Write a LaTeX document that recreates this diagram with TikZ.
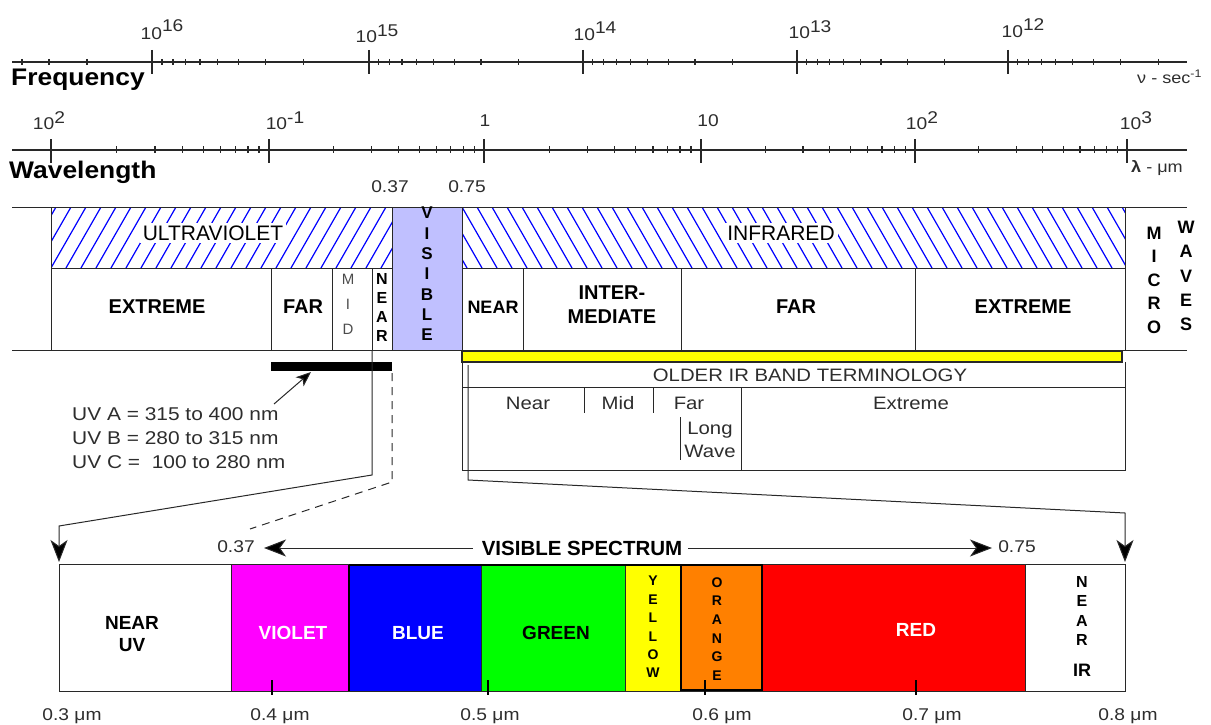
\documentclass[tikz,border=0pt]{standalone}
\usepackage{fontspec}
\setmainfont{Liberation Sans}
\newfontfamily\widefont[FakeStretch=1.13]{Liberation Sans}
\newfontfamily\widebold[FakeStretch=1.1]{Liberation Sans Bold}
\usetikzlibrary{arrows.meta}
\newcommand\fsz[1]{\fontsize{#1}{#1}\selectfont}
\definecolor{axc}{RGB}{40,40,40}
\definecolor{txc}{RGB}{45,45,45}
\definecolor{lav}{RGB}{192,192,255}
\definecolor{vio}{RGB}{255,0,255}
\definecolor{blu}{RGB}{0,0,255}
\definecolor{grn}{RGB}{0,255,0}
\definecolor{yel}{RGB}{255,255,0}
\definecolor{ora}{RGB}{255,128,0}
\definecolor{rd}{RGB}{255,0,0}
\definecolor{hatchc}{RGB}{0,0,255}
\begin{document}
\begin{tikzpicture}[x=1pt,y=-1pt,
  ax/.style={line width=1.3pt, draw=axc},
  tk/.style={line width=1.3pt, draw=axc},
  num/.style={font=\widefont\fsz{17}, text=txc, inner sep=0},
  big/.style={font=\widebold\fsz{24}, inner sep=0},
  band/.style={font=\bfseries\fsz{20}, inner sep=0},
  thinlbl/.style={font=\widefont\fsz{18}, text=txc, inner sep=0},
  ln/.style={line width=1pt, draw=axc},
  hatchln/.style={line width=1.2pt, draw=hatchc},
  arr/.style={-{Stealth[length=22pt,width=17pt,inset=6pt,fill=black]}},
  sarr/.style={-{Stealth[length=15pt,width=12pt,inset=4pt,fill=black]}}
]
\useasboundingbox (0,0) rectangle (1211,725);

% ---------------- Frequency axis ----------------
\draw[ax] (12,62) -- (1187,62);
\foreach \x in {152,369,583,797,1008} \draw[tk] (\x,50) -- (\x,74);
\foreach \a/\b in {152/369,369/583,583/797,797/1008,1008/1223}
  \foreach \k in {2,...,9} {
    \pgfmathsetmacro\xx{\a+(\b-\a)*ln(10/\k)/ln(10)}
    \draw[tk] (\xx,59) -- (\xx,65);
  }
\foreach \k in {2,3,4} {
  \pgfmathsetmacro\xx{152-216*ln(\k)/ln(10)}
  \draw[tk] (\xx,59) -- (\xx,65);
}
\node[num] (f16) at (162,30) {10\raisebox{8pt}{16}};
\node[num] (f15) at (377,34) {10\raisebox{6pt}{15}};
\node[num] (f14) at (595,31) {10\raisebox{7pt}{14}};
\node[num] (f13) at (810,30) {10\raisebox{6pt}{13}};
\node[num] (f12) at (1023,28) {10\raisebox{7pt}{12}};
\node[big, anchor=west] (freq) at (11,80) {Frequency};
\node[num, anchor=west] (nu) at (1137,77) {\fsz{16}ν - sec\raisebox{6pt}{\fsz{11}-1}};

% ---------------- Wavelength axis ----------------
\draw[ax] (12,150) -- (1187,150);
\foreach \x in {51,269,484,701,915,1127} \draw[tk] (\x,139) -- (\x,163);
\foreach \a/\b in {51/269,269/484,484/701,701/915,915/1127}
  \foreach \k in {2,...,9} {
    \pgfmathsetmacro\xx{\a+(\b-\a)*ln(\k)/ln(10)}
    \draw[tk] (\xx,146) -- (\xx,153);
  }
\node[num] (w1) at (49,121) {10\raisebox{6pt}{2}};
\node[num] (w2) at (285,121) {10\raisebox{6pt}{-1}};
\node[num] (w3) at (485,121) {1};
\node[num] (w4) at (708,121) {10};
\node[num] (w5) at (922,121) {10\raisebox{6pt}{2}};
\node[num] (w6) at (1136,121) {10\raisebox{6pt}{3}};
\node[big, anchor=west] (wav) at (9,172) {Wavelength};
\node[num, anchor=west] (lam) at (1131,168) {\fsz{16}\textbf{λ} - μm};
\node[num] (l37) at (390,187) {0.37};
\node[num] (l75) at (467,187) {0.75};

% ---------------- Bands ----------------
\begin{scope}
  \clip (51,207) rectangle (392,268);
  \foreach \i in {-60,-45,...,360} \draw[hatchln] (51+\i,268) -- (51+\i+35,207);
\end{scope}
\begin{scope}
  \clip (462,207) rectangle (1125,268);
  \foreach \i in {-60,-45,...,680} \draw[hatchln] (462+\i,207) -- (462+\i+35,268);
\end{scope}
\fill[lav] (392,207) rectangle (462,350);
\draw[ln] (12,207) -- (1187,207);
\draw[ln] (12,350) -- (1187,350);
\draw[ln] (51,268) -- (392,268);
\draw[ln] (462,268) -- (1125,268);
\foreach \x in {51,392,462,1125} \draw[ln] (\x,207) -- (\x,350);
\foreach \x in {271,332,372,523,681,915} \draw[ln] (\x,268) -- (\x,350);

\node[font=\fsz{21}, fill=white, inner sep=3pt] (uv) at (213,233) {ULTRAVIOLET};
\node[font=\fsz{21}, fill=white, inner sep=3pt] (ir) at (781,233) {INFRARED};
\node[band] (uvext) at (157,307) {EXTREME};
\node[band] (uvfar) at (303,307) {FAR};
\node[align=center, text=gray!60!black, inner sep=0, font=\fontsize{15}{25}\selectfont] (uvmid) at (348,304)
  {M\\I\\D};
\node[align=center, inner sep=0, font=\bfseries\fontsize{16}{19}\selectfont] (uvnear) at (382,307) {N\\E\\A\\R};
\node[align=center, inner sep=0, font=\bfseries\fontsize{17}{20.3}\selectfont] (vis) at (427,274) {V\\I\\S\\I\\B\\L\\E};
\node[font=\bfseries\fsz{18}, inner sep=0] (irnear) at (493,307) {NEAR};
\node[band, align=center, font=\bfseries\fontsize{20}{24}\selectfont] (irint) at (612,305) {INTER-\\MEDIATE};
\node[band] (irfar) at (796,307) {FAR};
\node[band] (irext) at (1023,307) {EXTREME};
\node[align=center, inner sep=0, font=\bfseries\fontsize{18}{23.5}\selectfont] (micro) at (1154,280) {M\\I\\C\\R\\O};
\node[align=center, inner sep=0, font=\bfseries\fontsize{18}{24.2}\selectfont] (waves) at (1186,276) {W\\A\\V\\E\\S};

% ---------------- Below bands ----------------
\fill[black] (271,362) rectangle (392,371);
\draw[ln, fill=yel, line width=1.3pt] (462,351) rectangle (1122,362);
% older IR box
\draw[ln] (462,350) -- (462,470) -- (1125,470) -- (1125,362);
\draw[ln] (462,387) -- (1125,387);
\draw[ln] (584,387) -- (584,413);
\draw[ln] (653,387) -- (653,413);
\draw[ln] (741,387) -- (741,470);
\draw[ln] (680,417) -- (680,460);
\node[thinlbl] (older) at (810,375) {OLDER IR BAND TERMINOLOGY};
\node[thinlbl] (onear) at (528,403) {Near};
\node[thinlbl] (omid) at (618,403) {Mid};
\node[thinlbl] (ofar) at (689,403) {Far};
\node[thinlbl, align=center, font=\widefont\fontsize{18}{23}\selectfont] (olong) at (710,440) {Long\\Wave};
\node[thinlbl] (oext) at (911,403) {Extreme};

% UV notes
\node[thinlbl, anchor=west, align=left, font=\widefont\fontsize{18.5}{24}\selectfont] (uvnotes) at (72,438)
  {UV A = 315 to 400 nm\\UV B = 280 to 315 nm\\UV C =\ \ 100 to 280 nm};
\coordinate (uvbar) at (311,372);
\coordinate (uvfrom) at (274,404);
\draw[ln, sarr] (uvfrom) -- (uvbar);

% connectors to visible spectrum
\coordinate (lstart) at (372,350);
\coordinate (ltip) at (59,562);
\draw[ln, arr] (lstart) -- (372,475) -- (59,526) -- (ltip);
\coordinate (dstart) at (392,373);
\coordinate (dend) at (250,529);
\draw[ln, dashed, dash pattern=on 8pt off 6pt] (dstart) -- (392,482) -- (dend);
\coordinate (rstart) at (468,365);
\coordinate (rtip) at (1125,562);
\draw[ln, arr] (rstart) -- (468,480) -- (1125,513) -- (rtip);

% ---------------- Visible spectrum ----------------
\node[font=\bfseries\fsz{20.5}, inner sep=0] (vs) at (582,548) {VISIBLE SPECTRUM};
\node[num] (s37) at (236,547) {0.37};
\node[num] (s75) at (1017,547) {0.75};
\draw[ln, arr] (vs.west) ++(-9,0) -- (264,548);
\draw[ln, arr] (vs.east) ++(6,0) -- (992,548);

\fill[vio] (231,564) rectangle (349,691);
\fill[blu] (349,564) rectangle (481,691);
\fill[grn] (481,564) rectangle (625,691);
\fill[yel] (625,564) rectangle (681,691);
\fill[ora] (681,564) rectangle (762,691);
\fill[rd] (762,564) rectangle (1025,691);
\draw[ln] (59,564) rectangle (1125,691);
\foreach \x in {231,481,625,681,762,1025} \draw[ln] (\x,564) -- (\x,691);
\draw[line width=2.5pt] (349,565) -- (349,691);
\draw[line width=1.5pt] (349,565) -- (681,565);
\draw[line width=1.3pt] (681,565) rectangle (762,690);
\foreach \x in {272,488,705,916} \draw[line width=2.5pt] (\x,680) -- (\x,695);

\node[band, align=center, font=\bfseries\fontsize{19}{22}\selectfont] (nuv) at (132,634) {NEAR\\UV};
\node[band, text=white, font=\bfseries\fsz{19}] (violet) at (293,633) {VIOLET};
\node[band, text=white, font=\bfseries\fsz{19}] (blue) at (418,633) {BLUE};
\node[band, font=\bfseries\fsz{19}] (green) at (556,633) {GREEN};
\node[align=center, inner sep=0, font=\bfseries\fontsize{14}{18.4}\selectfont] (yellow) at (653,627) {Y\\E\\L\\L\\O\\W};
\node[align=center, inner sep=0, font=\bfseries\fontsize{14}{18.6}\selectfont] (orange) at (717,629) {O\\R\\A\\N\\G\\E};
\node[band, text=white, font=\bfseries\fsz{19}] (red) at (916,630) {RED};
\node[align=center, inner sep=0, font=\bfseries\fontsize{16}{19.5}\selectfont] (nir) at (1082,611) {N\\E\\A\\R};
\node[font=\bfseries\fsz{18}, inner sep=0] (nir2) at (1082,670) {IR};

\node[num] (t3) at (72,716) {0.3 μm};
\node[num] (t4) at (280,716) {0.4 μm};
\node[num] (t5) at (490,716) {0.5 μm};
\node[num] (t6) at (722,716) {0.6 μm};
\node[num] (t7) at (932,716) {0.7 μm};
\node[num] (t8) at (1128,716) {0.8 μm};
\end{tikzpicture}
\end{document}
